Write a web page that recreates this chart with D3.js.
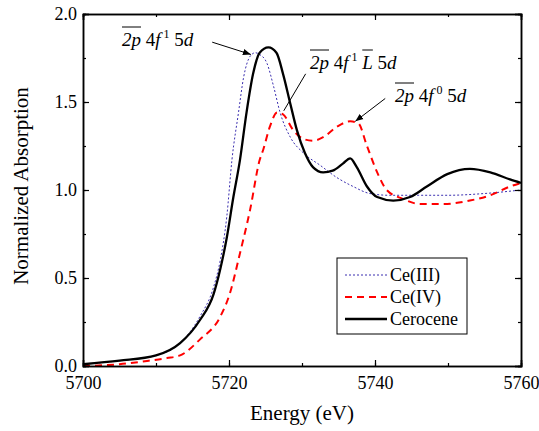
<!DOCTYPE html>
<html>
<head>
<meta charset="utf-8">
<script src="https://cdn.jsdelivr.net/npm/d3@7"></script>
</head>
<body style="margin:0">
<svg class="canvas" width="539" height="431"></svg>
<script>
// data
const ce3Energy = [5700, 5705, 5710, 5713.3, 5716, 5717.9, 5718.8, 5719.7, 5720.4, 5721.3, 5722.0, 5722.9, 5723.6, 5724.2, 5725.2, 5726.1, 5727.0, 5728.4, 5730.2, 5732.5, 5734.8, 5737, 5739.3, 5742, 5746, 5750, 5755, 5760];
const ce3Value  = [0.01, 0.03, 0.06, 0.13, 0.28, 0.45, 0.60, 0.85, 1.17, 1.44, 1.64, 1.76, 1.78, 1.77, 1.72, 1.59, 1.44, 1.30, 1.21, 1.14, 1.07, 1.02, 0.98, 0.97, 0.97, 0.97, 0.98, 1.00];

const ce4Energy = [5700, 5705, 5709, 5711.5, 5713.3, 5716, 5718.8, 5720.1, 5721.5, 5722.9, 5724.2, 5724.7, 5725.6, 5726.6, 5727.4, 5728.8, 5730.2, 5731.5, 5732.9, 5734.8, 5736.6, 5737.7, 5738.9, 5740.3, 5741.6, 5743.8, 5746.2, 5749.3, 5753, 5755.8, 5758.5, 5760];
const ce4Value  = [0.0, 0.01, 0.03, 0.045, 0.06, 0.15, 0.28, 0.41, 0.64, 0.89, 1.17, 1.23, 1.36, 1.44, 1.43, 1.34, 1.29, 1.28, 1.30, 1.36, 1.39, 1.38, 1.25, 1.10, 1.00, 0.95, 0.92, 0.92, 0.94, 0.97, 1.02, 1.04];

const ceroEnergy = [5700, 5705, 5710, 5713.3, 5716, 5717.9, 5718.8, 5719.7, 5720.6, 5721.5, 5722.4, 5723.3, 5724.2, 5725.4, 5726.5, 5727.4, 5728.4, 5729.3, 5730.4, 5731.5, 5732.9, 5734.2, 5735.6, 5736.6, 5737.5, 5738.9, 5740.3, 5742.5, 5744.8, 5747.1, 5749.9, 5753, 5755.8, 5758.5, 5760];
const ceroValue  = [0.01, 0.03, 0.06, 0.13, 0.26, 0.41, 0.55, 0.73, 0.96, 1.17, 1.44, 1.66, 1.78, 1.81, 1.78, 1.66, 1.49, 1.34, 1.21, 1.13, 1.10, 1.11, 1.15, 1.18, 1.13, 1.02, 0.96, 0.94, 0.96, 1.02, 1.09, 1.12, 1.10, 1.06, 1.04];

const xTicks = [5700, 5720, 5740, 5760];
const yTicks = [0.0, 0.5, 1.0, 1.5, 2.0];

const width = 539;
const height = 431;
const margin = {top: 14, right: 18, bottom: 65, left: 83};
const serif = '"Liberation Serif"';

const svg = d3.select('.canvas');

const x = d3.scaleLinear().domain([5700, 5760]).range([margin.left, width - margin.right]);
const y = d3.scaleLinear().domain([0, 2]).range([height - margin.bottom, margin.top]);

const zip = (xs, ys) => xs.map((e, i) => [e, ys[i]]);
const line = d3.line()
	.x(d => x(d[0]))
	.y(d => y(d[1]))
	.curve(d3.curveMonotoneX);

svg.append('clipPath').attr('id', 'plot')
	.append('rect')
	.attr('x', margin.left).attr('y', margin.top)
	.attr('width', x.range()[1] - margin.left)
	.attr('height', y.range()[0] - margin.top);

const series = [
	{name: 'Ce(III)', data: zip(ce3Energy, ce3Value), color: '#3b2fb0', width: 1, dash: '2,2'},
	{name: 'Ce(IV)', data: zip(ce4Energy, ce4Value), color: '#ff0000', width: 2, dash: '7,5'},
	{name: 'Cerocene', data: zip(ceroEnergy, ceroValue), color: '#000', width: 2.3, dash: null}
];

svg.append('g').attr('clip-path', 'url(#plot)')
	.selectAll('path')
	.data(series)
	.join('path')
	.attr('d', d => line(d.data))
	.attr('fill', 'none')
	.attr('stroke', d => d.color)
	.attr('stroke-width', d => d.width)
	.attr('stroke-dasharray', d => d.dash);

// axes, ticks pointing inwards on all four sides
const minorX = d3.range(5700, 5761, 10);
const minorY = d3.range(0, 2.01, 0.25);

const axBottom = svg.append('g').attr('transform', `translate(0,${y(0)})`)
	.call(d3.axisBottom(x).tickValues(minorX).tickSize(-3).tickFormat(''));
axBottom.append('g').call(d3.axisBottom(x).tickValues(xTicks).tickSize(-6).tickPadding(10).tickFormat(d3.format('d')));

const axTop = svg.append('g').attr('transform', `translate(0,${y(2)})`)
	.call(d3.axisTop(x).tickValues(minorX).tickSize(-3).tickFormat(''));
axTop.append('g').call(d3.axisTop(x).tickValues(xTicks).tickSize(-6).tickFormat(''));

const axLeft = svg.append('g').attr('transform', `translate(${x(5700)},0)`)
	.call(d3.axisLeft(y).tickValues(minorY).tickSize(-3).tickFormat(''));
axLeft.append('g').call(d3.axisLeft(y).tickValues(yTicks).tickSize(-6).tickPadding(6).tickFormat(d3.format('.1f')));

const axRight = svg.append('g').attr('transform', `translate(${x(5760)},0)`)
	.call(d3.axisRight(y).tickValues(minorY).tickSize(-3).tickFormat(''));
axRight.append('g').call(d3.axisRight(y).tickValues(yTicks).tickSize(-6).tickFormat(''));

svg.selectAll('g').attr('font-family', null).attr('font-size', null);
svg.selectAll('.domain').attr('stroke', '#000').attr('stroke-width', 1.5);
svg.selectAll('.tick line').attr('stroke', '#000').attr('stroke-width', 1.2);
svg.selectAll('.tick text')
	.style('font-family', serif)
	.style('font-size', '18px')
	.attr('fill', '#000');

svg.append('text')
	.attr('x', (x.range()[0] + x.range()[1]) / 2)
	.attr('y', 420)
	.attr('text-anchor', 'middle')
	.style('font-family', serif)
	.style('font-size', '21px')
	.text('Energy (eV)');

svg.append('text')
	.attr('transform', 'translate(28,186) rotate(-90)')
	.attr('text-anchor', 'middle')
	.style('font-family', serif)
	.style('font-size', '21px')
	.text('Normalized Absorption');

// legend
const legend = svg.append('g').attr('transform', 'translate(337,258)');
legend.append('rect')
	.attr('width', 130).attr('height', 76)
	.attr('fill', '#fff').attr('stroke', '#000').attr('stroke-width', 1);
legend.selectAll('g.item')
	.data(series)
	.join('g')
	.attr('class', 'item')
	.attr('transform', (d, i) => `translate(0,${17 + i * 22})`)
	.each(function (d) {
		const g = d3.select(this);
		g.append('line')
			.attr('x1', 8).attr('x2', 50)
			.attr('stroke', d.color)
			.attr('stroke-width', d.width)
			.attr('stroke-dasharray', d.dash);
		g.append('text')
			.attr('x', 53).attr('y', 6)
			.style('font-family', serif)
			.style('font-size', '18px')
			.text(d.name);
	});

// annotations, each piece: {t: text, i: italic, sup: superscript, bar: overline}
function annotate(px, py, parts) {
	const t = svg.append('text')
		.attr('x', px).attr('y', py)
		.style('font-family', serif)
		.style('font-size', '19px');
	let raised = false;
	parts.forEach(p => {
		const s = t.append('tspan')
			.text(p.t)
			.style('font-style', p.i ? 'italic' : 'normal');
		if (p.sup) { s.attr('dy', -8).style('font-size', '12px'); raised = true; }
		else if (raised) { s.attr('dy', 8); raised = false; }
	});
	// overlines drawn as lines over the flagged pieces
	const node = t.node();
	let idx = 0;
	parts.forEach(p => {
		const n = p.t.length;
		if (p.bar) {
			const a = node.getStartPositionOfChar(idx).x;
			const b = node.getEndPositionOfChar(idx + n - 1).x;
			svg.append('line')
				.attr('x1', a).attr('x2', b)
				.attr('y1', py - 19).attr('y2', py - 19)
				.attr('stroke', '#000').attr('stroke-width', 1);
		}
		idx += n;
	});
}

annotate(122, 46, [{t: '2p', i: true, bar: true}, {t: ' 4'}, {t: 'f', i: true}, {t: ' 1', sup: true}, {t: ' 5'}, {t: 'd', i: true}]);
annotate(310, 69, [{t: '2p', i: true, bar: true}, {t: ' 4'}, {t: 'f', i: true}, {t: ' 1', sup: true}, {t: ' '}, {t: 'L', i: true, bar: true}, {t: ' 5'}, {t: 'd', i: true}]);
annotate(395, 102, [{t: '2p', i: true, bar: true}, {t: ' 4'}, {t: 'f', i: true}, {t: ' 0', sup: true}, {t: ' 5'}, {t: 'd', i: true}]);

svg.append('defs').append('marker')
	.attr('id', 'arrow')
	.attr('viewBox', '0 0 10 10')
	.attr('refX', 10).attr('refY', 5)
	.attr('markerWidth', 8).attr('markerHeight', 8)
	.attr('orient', 'auto')
	.append('path')
	.attr('d', 'M0,1 L10,5 L0,9 Z')
	.attr('fill', '#000');

const pointers = [
	{from: [5717.7, 1.84], to: [5723.0, 1.77], head: true},
	{from: [5730.5, 1.66], to: [5727.5, 1.45], head: false},
	{from: [5741.4, 1.52], to: [5737.3, 1.39], head: true}
];

svg.selectAll('line.pointer')
	.data(pointers)
	.join('line')
	.attr('class', 'pointer')
	.attr('x1', d => x(d.from[0])).attr('y1', d => y(d.from[1]))
	.attr('x2', d => x(d.to[0])).attr('y2', d => y(d.to[1]))
	.attr('stroke', '#000').attr('stroke-width', 1)
	.attr('marker-end', d => d.head ? 'url(#arrow)' : null);
</script>
</body>
</html>
